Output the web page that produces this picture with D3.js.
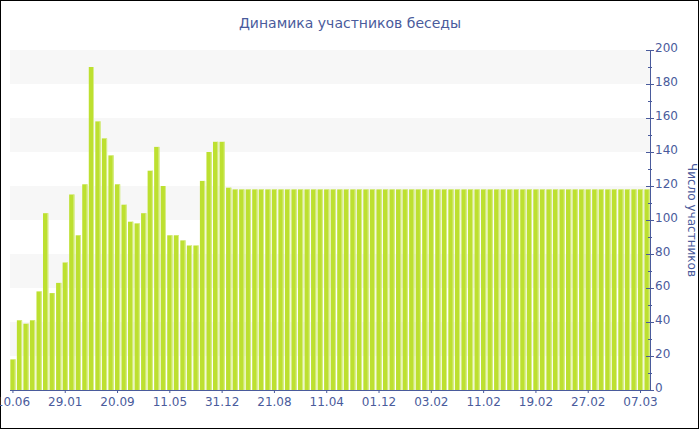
<!DOCTYPE html>
<html>
<head>
<meta charset="utf-8">
<script src="https://cdn.jsdelivr.net/npm/d3@7"></script>
<style>
  html, body { margin: 0; padding: 0; background: #fff; }
  svg { display: block; }
</style>
</head>
<body>
<svg id="chart" width="700" height="430"></svg>
<script>
const title = "Динамика участников беседы";
const yAxisTitle = "Число участников";

const categories = [
  "10.06.09","09.07.09","07.08.09","05.09.09","04.10.09","02.11.09","01.12.09","30.12.09",
  "29.01.10","27.02.10","28.03.10","26.04.10","25.05.10","23.06.10","22.07.10","20.08.10",
  "20.09.10","19.10.10","17.11.10","16.12.10","14.01.11","12.02.11","13.03.11","11.04.11",
  "11.05.11","09.06.11","08.07.11","06.08.11","04.09.11","03.10.11","01.11.11","30.11.11",
  "31.12.11","29.01.12","27.02.12","28.03.12","26.04.12","25.05.12","23.06.12","22.07.12",
  "21.08.12","19.09.12","18.10.12","16.11.12","15.12.12","13.01.13","11.02.13","12.03.13",
  "11.04.13","10.05.13","08.06.13","07.07.13","05.08.13","03.09.13","02.10.13","31.10.13",
  "01.12.13","09.12.13","17.12.13","25.12.13","02.01.14","10.01.14","18.01.14","26.01.14",
  "03.02.14","04.02.14","05.02.14","06.02.14","07.02.14","08.02.14","09.02.14","10.02.14",
  "11.02.14","12.02.14","13.02.14","14.02.14","15.02.14","16.02.14","17.02.14","18.02.14",
  "19.02.14","20.02.14","21.02.14","22.02.14","23.02.14","24.02.14","25.02.14","26.02.14",
  "27.02.14","28.02.14","01.03.14","02.03.14","03.03.14","04.03.14","05.03.14","06.03.14",
  "07.03.14","08.03.14"
];

const participants = [
  18, 41, 39, 41, 58, 104, 57, 63,
  75, 115, 91, 121, 190, 158, 148, 138,
  121, 109, 99, 98, 104, 129, 143, 120,
  91, 91, 88, 85, 85, 123, 140, 146,
  146, 119, 118, 118, 118, 118, 118, 118,
  118, 118, 118, 118, 118, 118, 118, 118,
  118, 118, 118, 118, 118, 118, 118, 118,
  118, 118, 118, 118, 118, 118, 118, 118,
  118, 118, 118, 118, 118, 118, 118, 118,
  118, 118, 118, 118, 118, 118, 118, 118,
  118, 118, 118, 118, 118, 118, 118, 118,
  118, 118, 118, 118, 118, 118, 118, 118,
  118, 118
];

const xTickLabels = ["10.06","29.01","20.09","11.05","31.12","21.08","11.04","01.12","03.02","11.02","19.02","27.02","07.03"];
const yTicks = [0, 20, 40, 60, 80, 100, 120, 140, 160, 180, 200];
const yMinorTicks = [10, 30, 50, 70, 90, 110, 130, 150, 170, 190];
const bandRanges = [[20, 40], [60, 80], [100, 120], [140, 160], [180, 200]];

const W = 700, H = 430;
const plot = { left: 10, right: 650, top: 50, bottom: 390 };
const axisColor = "#4a5b9c";
const textColor = "#4a5b9c";
const font = "Verdana, 'DejaVu Sans', sans-serif";

const svg = d3.select("#chart");

svg.append("rect")
  .attr("x", 0.5).attr("y", 0.5)
  .attr("width", W - 2).attr("height", H - 2)
  .attr("fill", "#fff").attr("stroke", "#000").attr("stroke-width", 1);

const x = d3.scaleBand()
  .domain(categories)
  .range([plot.left, plot.right])
  .paddingInner(0.2)
  .paddingOuter(0.05);

const y = d3.scaleLinear()
  .domain([0, 200])
  .range([plot.bottom, plot.top]);

// alternating grid bands
svg.append("g").selectAll("rect")
  .data(bandRanges)
  .join("rect")
  .attr("x", plot.left)
  .attr("width", plot.right - plot.left)
  .attr("y", d => y(d[1]))
  .attr("height", d => y(d[0]) - y(d[1]))
  .attr("fill", "#f7f7f7");

// bars
svg.append("g").selectAll("rect")
  .data(participants)
  .join("rect")
  .attr("x", (d, i) => x(categories[i]))
  .attr("width", x.bandwidth())
  .attr("y", d => y(d))
  .attr("height", d => y(0) - y(d))
  .attr("fill", "#bde030");

// light highlight at the right edge of each bar
svg.append("g").selectAll("rect")
  .data(participants)
  .join("rect")
  .attr("x", (d, i) => x(categories[i]) + x.bandwidth() - 1)
  .attr("width", 1)
  .attr("y", d => y(d))
  .attr("height", d => y(0) - y(d))
  .attr("fill", "#d9ee8c");

// x axis
const tickCats = xTickLabels.map((t, k) => categories[k * 8]);
const xAxis = d3.axisBottom(x)
  .tickValues(tickCats)
  .tickFormat(d => d.slice(0, 5))
  .tickSize(3)
  .tickSizeOuter(0);
const gx = svg.append("g")
  .attr("transform", `translate(0,${plot.bottom})`)
  .call(xAxis);
gx.select(".domain").attr("stroke", axisColor).attr("d", `M${plot.left},0.5H${plot.right}`);
gx.selectAll(".tick line").attr("stroke", axisColor);
gx.selectAll(".tick text")
  .attr("fill", textColor)
  .attr("font-family", font)
  .attr("font-size", 12)
  .attr("y", 5)
  .attr("dy", "0.9em");

// y axis (right)
const yAxis = d3.axisRight(y)
  .tickValues(yTicks)
  .tickSize(4)
  .tickSizeOuter(0);
const gy = svg.append("g")
  .attr("transform", `translate(${plot.right},0)`)
  .call(yAxis);
gy.select(".domain").attr("stroke", axisColor);
gy.selectAll(".tick line").attr("stroke", axisColor).attr("x1", -4).attr("x2", 4);
gy.selectAll(".tick text")
  .attr("fill", textColor)
  .attr("font-family", font)
  .attr("font-size", 12)
  .attr("x", 5)
  .attr("dy", "0.1em");

gy.append("g").selectAll("line")
  .data(yMinorTicks)
  .join("line")
  .attr("x1", -2).attr("x2", 2)
  .attr("y1", d => y(d) + 0.5).attr("y2", d => y(d) + 0.5)
  .attr("stroke", axisColor);

// axis title
svg.append("text")
  .attr("transform", `translate(688,${(plot.top + plot.bottom) / 2}) rotate(90)`)
  .attr("text-anchor", "middle")
  .attr("fill", textColor)
  .attr("font-family", font)
  .attr("font-size", 12)
  .text(yAxisTitle);

// chart title
svg.append("text")
  .attr("x", 350)
  .attr("y", 28)
  .attr("text-anchor", "middle")
  .attr("fill", textColor)
  .attr("font-family", font)
  .attr("font-size", 14)
  .text(title);
</script>
</body>
</html>
